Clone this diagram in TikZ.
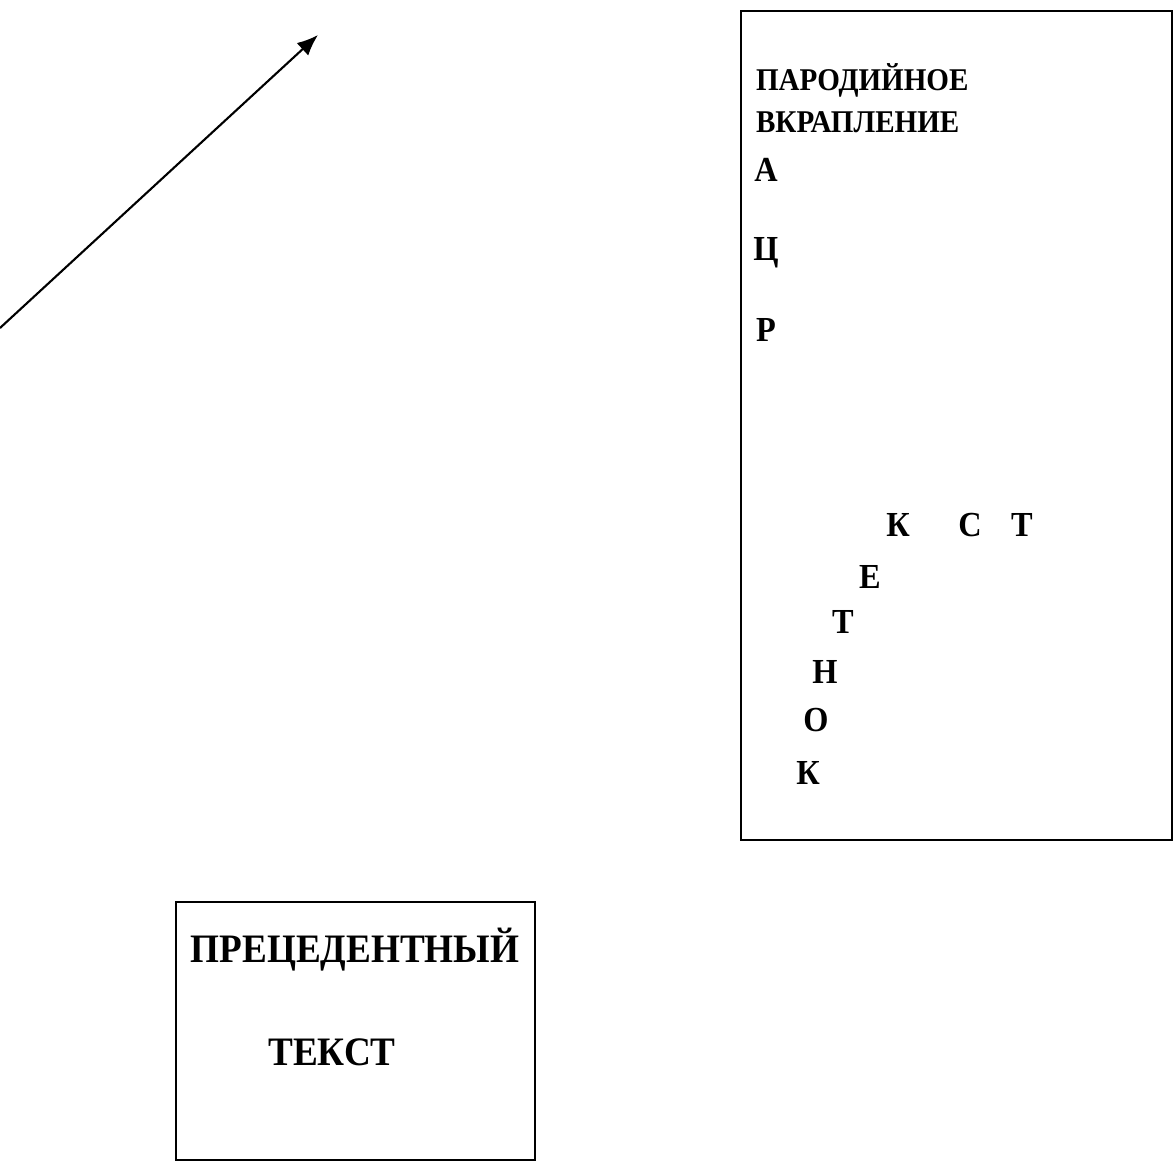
\documentclass[tikz,border=0pt]{standalone}
\usepackage{fontspec}
\setmainfont[FakeStretch=0.92]{Liberation Serif}
\usetikzlibrary{%
  arrows,%
  arrows.meta,%
  positioning% wg. " of "
}

\begin{document}
\begin{tikzpicture}
[draw=black, line width=0.6pt, >={Latex[length=2.1mm,width=1.7mm]},
frame/.style={rectangle, draw, line width=0.8pt},
title/.style={anchor=west, inner sep=0pt, font=\bfseries\fontsize{9}{11}\selectfont},
letter/.style={inner sep=0pt, font=\bfseries\fontsize{10}{12}\selectfont},
big/.style={inner sep=0pt, font=\bfseries\fontsize{11.5}{13}\selectfont}]

\useasboundingbox (0,0) rectangle (11.75,11.69);

% rechter Kasten
\draw[frame] (7.41,11.58) rectangle (11.72,3.29);

\node[title] (t1) at (7.55,10.89) {ПАРОДИЙНОЕ};
\node[title] (t2) at (7.55,10.47) {ВКРАПЛЕНИЕ};

\node[letter] (a) at (7.66,9.99) {А};
\node[letter] (c) at (7.66,9.16) {Ц};
\node[letter] (r) at (7.66,8.39) {Р};

\node[letter] (k1) at (8.98,6.44) {К};
\node[letter] (s1) at (9.70,6.44) {С};
\node[letter] (t3) at (10.22,6.44) {Т};

\node[letter] (e1) at (8.70,5.92) {Е};
\node[letter] (t4) at (8.43,5.47) {Т};
\node[letter] (n1) at (8.25,4.97) {Н};
\node[letter] (o1) at (8.16,4.49) {О};
\node[letter] (k2) at (8.08,3.96) {К};

% unterer Kasten
\draw[frame] (1.76,2.67) rectangle (5.35,0.09);
\node[big] (prec) at (3.55,2.19) {ПРЕЦЕДЕНТНЫЙ};
\node[big] (text) at (3.32,1.17) {ТЕКСТ};

% Pfeil
\coordinate (from) at (0,8.41);
\coordinate (to) at (3.18,11.34);
\draw[->] (from) -- (to);

\end{tikzpicture}
\end{document}
